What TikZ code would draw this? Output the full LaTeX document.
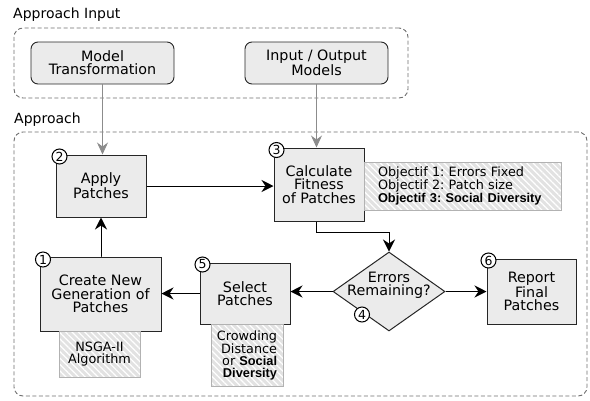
\documentclass[tikz,border=0pt]{standalone}
\usepackage{fontspec}
\setmainfont{DejaVu Sans}
\newfontfamily\arialfont{Liberation Sans}
\usetikzlibrary{shapes.geometric,arrows.meta,patterns.meta}
\definecolor{boxfill}{RGB}{235,235,235}
\definecolor{hatchbg}{RGB}{226,226,226}
\definecolor{dashgray}{RGB}{110,110,110}
\frenchspacing
\begin{document}
\begin{tikzpicture}[x=1pt,y=-1pt,
  txt/.style={font=\fontsize{14.3}{13.3}\selectfont, align=center, inner sep=0pt},
  groupbox/.style={draw=dashgray, dash pattern=on 4pt off 2.5pt, line width=0.9pt, rounded corners=9pt, inner sep=0pt},
  grouplabel/.style={font=\fontsize{14}{14}\selectfont, anchor=west, inner sep=0pt},
  inputbox/.style={txt, draw=black!85, fill=boxfill, line width=0.9pt, rounded corners=7pt},
  stepbox/.style={txt, draw=black!85, fill=boxfill, line width=1pt},
  hatchbox/.style={font=\fontsize{12.8}{11.8}\selectfont, inner sep=0pt, draw=black!30, line width=0.8pt,
     preaction={fill=hatchbg}, pattern={Lines[angle=-45,distance=4.5pt,line width=1.2pt]}, pattern color=white},
  numc/.style={circle, draw=black, line width=1pt, fill=white, inner sep=0pt, minimum size=15pt, font=\fontsize{12.5}{12.5}\selectfont},
  arr/.style={line width=1pt, -{Stealth[length=12pt,width=12pt,inset=4pt]}},
  grayarr/.style={line width=1pt, draw=black!45, -{Stealth[length=12pt,width=11pt,inset=4pt]}}
]
\useasboundingbox (0,0) rectangle (590,400);

% Approach Input group
\node[grouplabel] (lblIn) at (13,15) {Approach Input};
\node[groupbox, minimum width=394pt, minimum height=70pt] (ingrp) at (211,63) {};
\node[inputbox, minimum width=143pt, minimum height=42pt] (mt) at (102.5,63) {Model\\Transformation};
\node[inputbox, minimum width=143pt, minimum height=42pt] (io) at (316.5,63) {Input / Output\\Models};

% Approach group
\node[grouplabel] (lblAp) at (14,120) {Approach};
\node[groupbox, minimum width=573pt, minimum height=264pt] (apgrp) at (300.5,264) {};

% Steps
\node[stepbox, minimum width=90pt, minimum height=62pt] (apply) at (101,186) {Apply\\Patches};
\node[stepbox, minimum width=90pt, minimum height=73pt] (calc) at (319,184.5) {Calculate\\Fitness\\of Patches};
\node[hatchbox, minimum width=197pt, minimum height=48pt, text width=169pt, align=left, inner xsep=14pt] (obj) at (462.5,186)
  {Objectif 1: Errors Fixed\\Objectif 2: Patch size\\{\arialfont\bfseries Objectif 3: Social Diversity}};
\node[stepbox, minimum width=121pt, minimum height=74pt] (create) at (100.5,294) {Create New\\Generation of\\Patches};
\node[hatchbox, minimum width=81pt, minimum height=46pt, align=center] (nsga) at (99.5,354) {NSGA-II\\Algorithm};
\node[stepbox, minimum width=90pt, minimum height=61pt] (select) at (245,293.5) {Select\\Patches};
\node[hatchbox, minimum width=72pt, minimum height=62pt, align=right] (crowd) at (247,355)
  {Crowding\\Distance\\or {\arialfont\bfseries Social}\\{\arialfont\bfseries Diversity}};
\node[diamond, draw=black!85, fill=boxfill, line width=1pt, inner sep=0pt, minimum width=112pt, minimum height=79pt] (dec) at (389,291.5) {};
\node[txt] (dectxt) at (389,285.5) {Errors\\Remaining?};
\node[stepbox, minimum width=89pt, minimum height=65pt] (rep) at (531.5,291.5) {Report\\Final\\Patches};

% number circles
\node[numc] (n1) at (43,259.5) {1};
\node[numc] (n2) at (59.5,156.5) {2};
\node[numc] (n3) at (276.5,150) {3};
\node[numc] (n4) at (362,314.5) {4};
\node[numc] (n5) at (202.5,264.5) {5};
\node[numc] (n6) at (488.5,260.5) {6};

% connectors
\draw[grayarr] (mt.south) -- (mt.south |- apply.north);
\draw[grayarr] (io.south) -- (io.south |- calc.north);
\draw[arr] (apply.east) -- (calc.west |- apply.east);
\draw[arr] ([xshift=-3pt]calc.south) -- ++(0,11) -| (dec.north);
\draw[arr] (dec.east) -- (rep.west |- dec.east);
\draw[arr] (dec.west) -- (select.east |- dec.west);
\draw[arr] (select.west) -- (create.east |- select.west);
\draw[arr] (create.north) -- (create.north -| apply.south) -- (apply.south);
\end{tikzpicture}
\end{document}
